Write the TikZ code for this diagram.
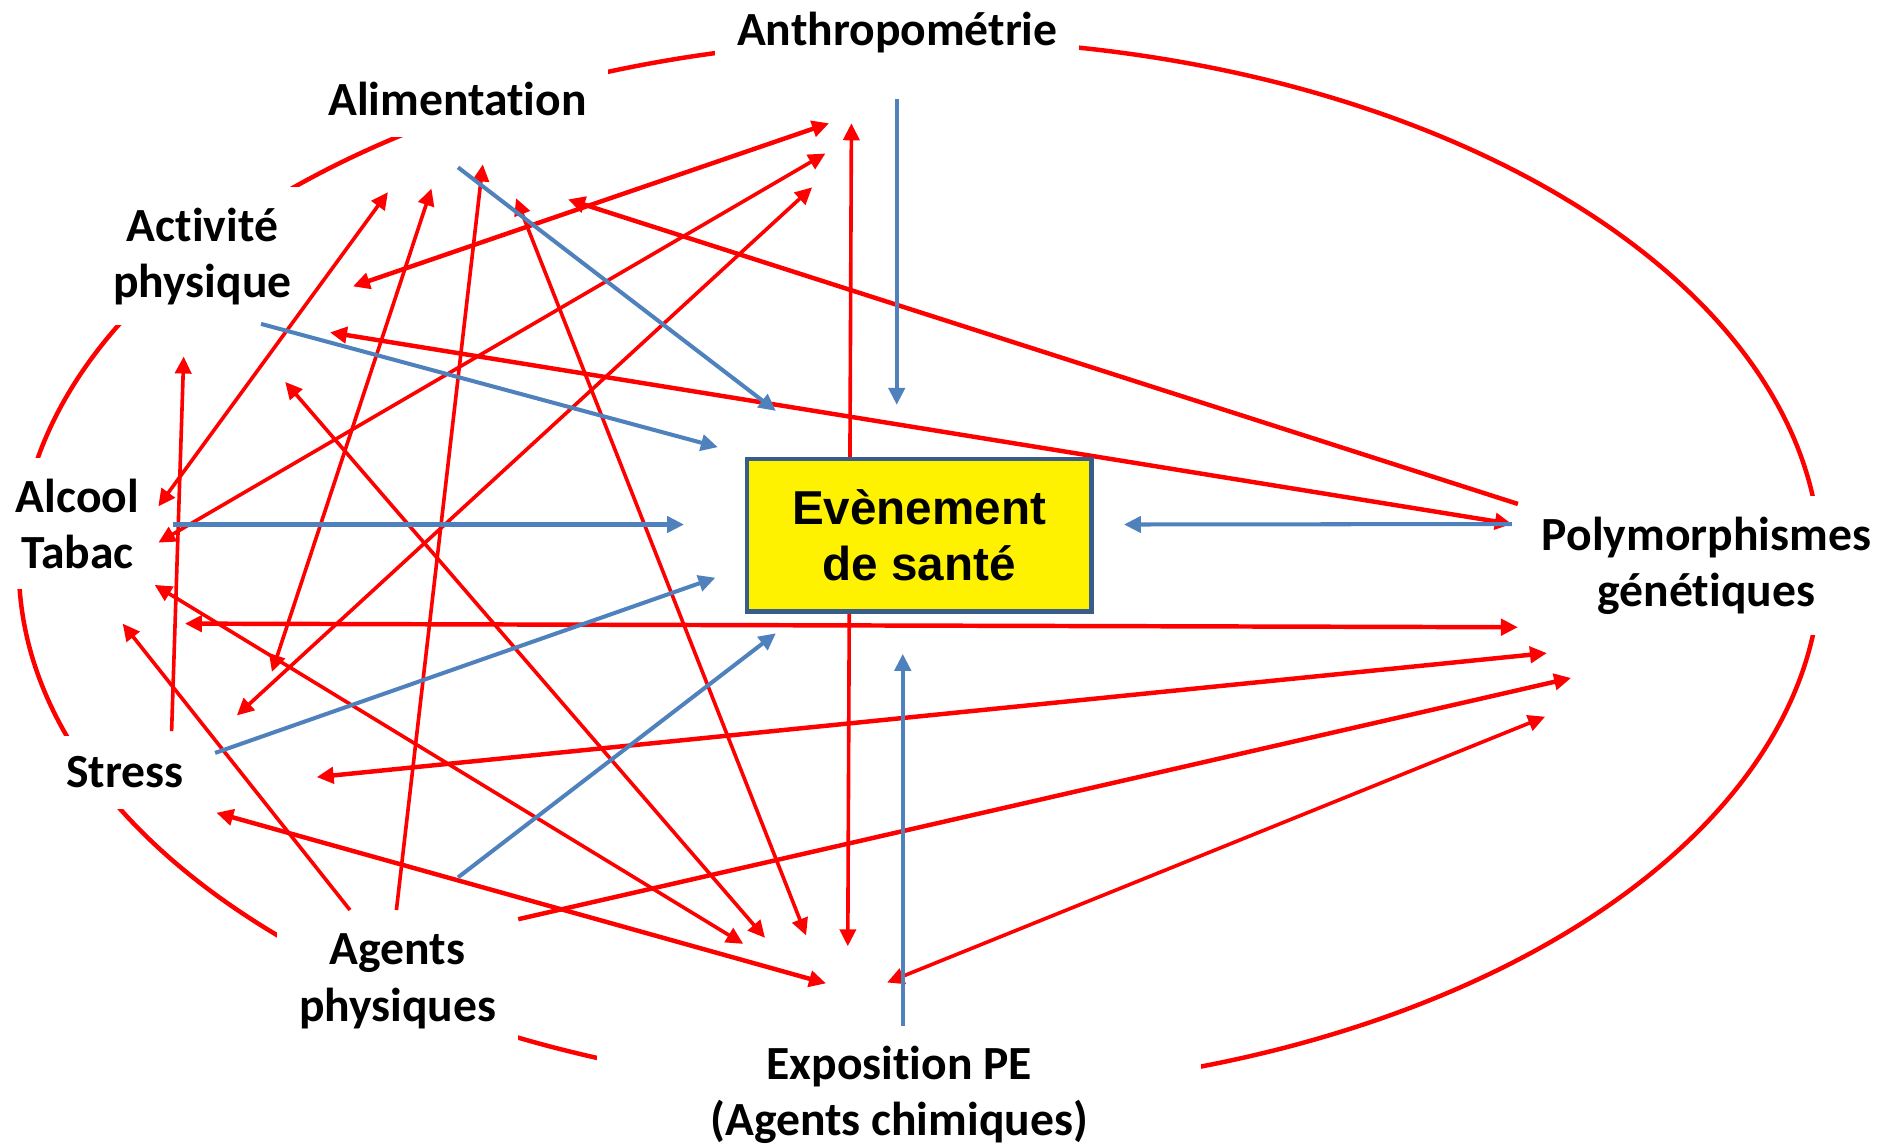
\documentclass[tikz,border=0pt]{standalone}
\usepackage{fontspec}
\setmainfont{Carlito}[Ligatures=NoCommon]
\newfontfamily\boxfont{Liberation Sans}
\usetikzlibrary{arrows.meta}

\definecolor{linkred}{RGB}{255,0,0}
\definecolor{linkblue}{RGB}{79,129,189}
\definecolor{boxline}{RGB}{56,93,138}

\begin{document}
\begin{tikzpicture}[x=0.01cm, y=-0.01cm,
    >={Triangle[length=4pt,width=3.8pt]},
    lbl/.style={fill=white, align=center, inner xsep=0.18cm, inner ysep=0.17cm,
      font=\fontsize{11.2}{13.2}\selectfont\bfseries},
    eventbox/.style={draw=boxline, line width=1pt, fill=yellow, align=center,
      minimum width=2.85cm, minimum height=1.26cm,
      font=\boxfont\fontsize{11.2}{13.3}\selectfont\bfseries},
    redthick/.style={linkred, line width=1.05pt},
    redthin/.style={linkred, line width=0.85pt},
    bluelink/.style={linkblue, line width=0.95pt}]
    \useasboundingbox (0,0) rectangle (1568,948);

    % Outer ring
    \draw[redthick] (761,468.4) ellipse [x radius=7.45cm, y radius=4.355cm];

    % Define nodes
    \node[lbl] (ANT) at (742.5,27) {Anthropométrie};
    \node[lbl] (ALI) at (378.5,82) {Alimentation};
    \node[lbl] (ACT) at (167.5,212) {Activité\\physique};
    \node[lbl] (ALC) at (64,433.5) {Alcool\\Tabac};
    \node[lbl] (STR) at (103.5,639) {Stress};
    \node[lbl] (AGP) at (329,812) {Agents\\physiques};
    \node[lbl, minimum width=5cm] (EXP) at (744,906) {Exposition PE\\(Agents chimiques)};
    \node[lbl] (POL) at (1412,468) {Polymorphismes\\génétiques};

    % Arrow ends
    \coordinate (ant1) at (686,102);
    \coordinate (ant2) at (704.5,102);
    \coordinate (ant3) at (683,127);
    \coordinate (ant4) at (672,155);
    \coordinate (ant5) at (742,82);
    \coordinate (ali1) at (321,159);
    \coordinate (ali2) at (357,156);
    \coordinate (ali3) at (399.5,136);
    \coordinate (ali4) at (427,164);
    \coordinate (ali5) at (470,165);
    \coordinate (ali6) at (379,138.5);
    \coordinate (act1) at (292,237);
    \coordinate (act2) at (273,275);
    \coordinate (act3) at (152,295);
    \coordinate (act4) at (236,316);
    \coordinate (act5) at (216,268);
    \coordinate (alc1) at (131,419);
    \coordinate (alc2) at (131,449);
    \coordinate (alc3) at (128,484);
    \coordinate (alc4) at (153,516);
    \coordinate (alc5) at (101.5,516);
    \coordinate (alc6) at (143,434);
    \coordinate (str1) at (142,605);
    \coordinate (str2) at (225,556);
    \coordinate (str3) at (196,592);
    \coordinate (str4) at (262,643);
    \coordinate (str5) at (179,672.5);
    \coordinate (str6) at (178,623);
    \coordinate (agp1) at (289.6,753);
    \coordinate (agp2) at (328,753);
    \coordinate (agp3) at (428.8,760.6);
    \coordinate (agp4) at (379,726);
    \coordinate (exp1) at (615,781);
    \coordinate (exp2) at (633,776);
    \coordinate (exp3) at (667,774);
    \coordinate (exp4) at (701.5,783);
    \coordinate (exp5) at (683.5,813.7);
    \coordinate (exp6) at (734,813);
    \coordinate (exp7) at (747,849);
    \coordinate (pol1) at (1256,417);
    \coordinate (pol2) at (1251,433.6);
    \coordinate (pol4) at (1256,519);
    \coordinate (pol5) at (1280,540.4);
    \coordinate (pol6) at (1300,561);
    \coordinate (pol7) at (1278.5,593);
    \coordinate (evt1) at (742,335);
    \coordinate (evt2) at (642,340);
    \coordinate (evt3) at (594,370);
    \coordinate (evt4) at (566,434);
    \coordinate (evt5) at (930,434);
    \coordinate (evt6) at (592,478);
    \coordinate (evt7) at (642,524);
    \coordinate (evt8) at (747,541);

    % Draw arrows
    \draw[redthick,<->] (act1) -- (ant1);
    \draw[redthin,<->] (exp4) -- (ant2);
    \draw[redthin,<->] (alc2) -- (ant3);
    \draw[redthin,<->] (str3) -- (ant4);
    \draw[redthin,<->] (alc1) -- (ali1);
    \draw[redthin,<->] (str2) -- (ali2);
    \draw[redthin,->] (agp2) -- (ali3);
    \draw[redthin,<->] (exp3) -- (ali4);
    \draw[redthick,->] (pol1) -- (ali5);
    \draw[redthick,<->] (act2) -- (pol2);
    \draw[redthin,->] (str1) -- (act3);
    \draw[redthin,<->] (act4) -- (exp2);
    \draw[redthin,<->] (alc3) -- (exp1);
    \draw[redthick,<->] (alc4) -- (pol4);
    \draw[redthin,->] (agp1) -- (alc5);
    \draw[redthick,<->] (str4) -- (pol5);
    \draw[redthick,<->] (str5) -- (exp5);
    \draw[redthick,->] (agp3) -- (pol6);
    \draw[redthin,<->] (exp6) -- (pol7);

    \draw[bluelink,->] (ant5) -- (evt1);
    \draw[bluelink,->] (ali6) -- (evt2);
    \draw[bluelink,->] (act5) -- (evt3);
    \draw[bluelink,->] (alc6) -- (evt4);
    \draw[bluelink,->] (pol2) -- (evt5);
    \draw[bluelink,->] (str6) -- (evt6);
    \draw[bluelink,->] (agp4) -- (evt7);
    \draw[bluelink,->] (exp7) -- (evt8);

    % Central box
    \node[eventbox] (EVT) at (760.5,443) {Evènement\\de santé};
\end{tikzpicture}
\end{document}
